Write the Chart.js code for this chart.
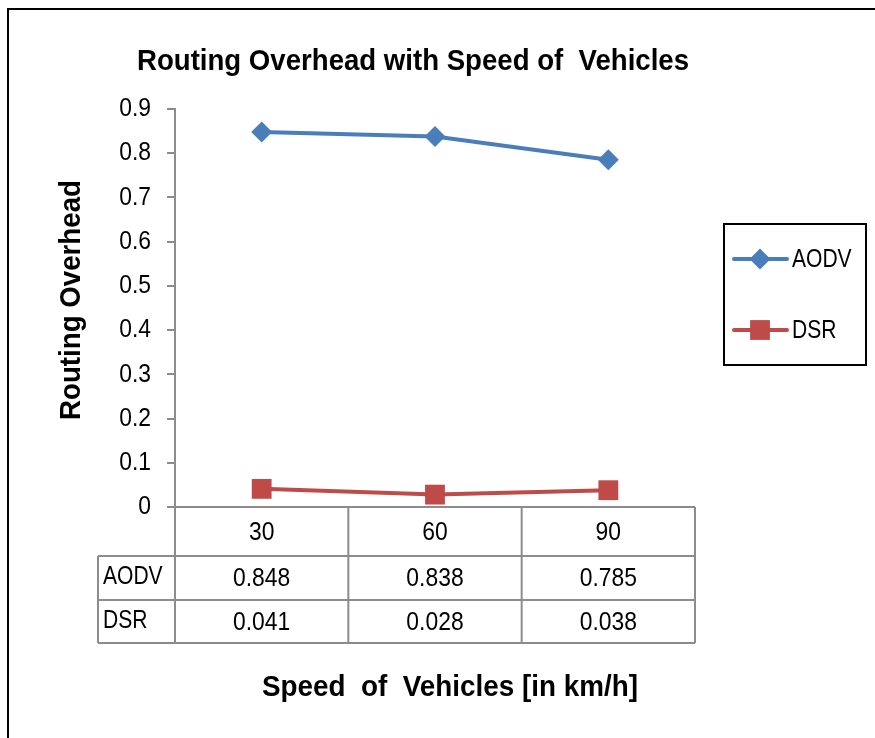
<!DOCTYPE html>
<html>
<head>
<meta charset="utf-8">
<script src="https://cdn.jsdelivr.net/npm/chart.js@4"></script>
<style>
html,body{margin:0;padding:0;background:#fff;}
#wrap{position:relative;width:875px;height:738px;}
</style>
</head>
<body>
<div id="wrap"><canvas id="c" width="875" height="738"></canvas></div>
<script>
const categories = ['30', '60', '90'];
const aodv = [0.848, 0.838, 0.785];
const dsr = [0.041, 0.028, 0.038];
const yTicks = [0, 0.1, 0.2, 0.3, 0.4, 0.5, 0.6, 0.7, 0.8, 0.9];
const titleText = 'Routing Overhead with Speed of  Vehicles';
const xTitle = 'Speed  of  Vehicles [in km/h]';
const yTitle = 'Routing Overhead';

const FONT = "'Liberation Sans', Arial, sans-serif";
const BLUE = '#4a7ebb';
const RED = '#be4b48';
const GRID = '#8c8c8c';
const SX = 0.88;      // horizontal compression for regular text
const REG = '26px ' + FONT;

function narrowText(ctx, text, x, y, font, align, sx, targetW) {
  ctx.save();
  ctx.font = font;
  ctx.textBaseline = 'middle';
  const w = ctx.measureText(text).width;
  const s = targetW ? targetW / w : sx;
  ctx.translate(x, y);
  ctx.scale(s, 1);
  ctx.textAlign = align;
  ctx.fillText(text, 0, 0);
  ctx.restore();
}

const decor = {
  id: 'decor',
  afterDraw(chart) {
    const ctx = chart.ctx;
    const xs = chart.scales.x;
    const ys = chart.scales.y;
    const area = chart.chartArea;
    ctx.save();
    // outer border
    ctx.strokeStyle = '#000';
    ctx.lineWidth = 2;
    ctx.beginPath();
    ctx.moveTo(8, 745); ctx.lineTo(8, 9); ctx.lineTo(880, 9);
    ctx.stroke();

    ctx.fillStyle = '#000';
    // title & axis titles
    narrowText(ctx, titleText, 413, 62, 'bold 30px ' + FONT, 'center', null, 552);
    narrowText(ctx, xTitle, 450, 688, 'bold 30px ' + FONT, 'center', null, 376);
    ctx.save();
    ctx.translate(72, 300);
    ctx.rotate(-Math.PI / 2);
    narrowText(ctx, yTitle, 0, 0, 'bold 30px ' + FONT, 'center', null, 240);
    ctx.restore();

    // y tick labels
    ys.ticks.forEach(t => {
      const y = ys.getPixelForValue(t.value);
      narrowText(ctx, String(Number(t.value.toFixed(1))), 151, y, REG, 'right', SX);
    });

    // data table
    const rowTops = [area.bottom, 556, 600, 643];
    const leftCol = 98;
    const n = categories.length;
    const colW = (area.right - area.left) / n;
    const bounds = [];
    for (let i = 0; i <= n; i++) bounds.push(area.left + i * colW);
    ctx.strokeStyle = GRID;
    ctx.lineWidth = 2;
    ctx.beginPath();
    ctx.moveTo(area.left, rowTops[0]); ctx.lineTo(area.right, rowTops[0]);
    for (let r = 1; r < rowTops.length; r++) {
      ctx.moveTo(leftCol, rowTops[r]); ctx.lineTo(area.right, rowTops[r]);
    }
    ctx.moveTo(leftCol, rowTops[1]); ctx.lineTo(leftCol, rowTops[3]);
    bounds.forEach(b => { ctx.moveTo(b, rowTops[0]); ctx.lineTo(b, rowTops[3]); });
    ctx.stroke();

    categories.forEach((c, i) => {
      const cx = xs.getPixelForValue(i);
      narrowText(ctx, c, cx, (rowTops[0] + rowTops[1]) / 2 + 1, REG, 'center', SX);
      narrowText(ctx, aodv[i].toFixed(3), cx, (rowTops[1] + rowTops[2]) / 2 + 1, REG, 'center', SX);
      narrowText(ctx, dsr[i].toFixed(3), cx, (rowTops[2] + rowTops[3]) / 2 + 1, REG, 'center', SX);
    });
    chart.data.datasets.forEach((ds, k) => {
      narrowText(ctx, ds.label, leftCol + 5, (rowTops[k + 1] + rowTops[k + 2]) / 2 - 1, REG, 'left', SX * 0.92);
    });

    // legend
    ctx.strokeStyle = '#000';
    ctx.lineWidth = 2;
    ctx.strokeRect(724, 224, 142, 141);
    const ly = [259, 330];
    chart.data.datasets.forEach((ds, k) => {
      const y = ly[k];
      ctx.strokeStyle = ds.borderColor;
      ctx.lineWidth = 4;
      ctx.lineCap = 'round';
      ctx.beginPath(); ctx.moveTo(734, y); ctx.lineTo(787, y); ctx.stroke();
      ctx.fillStyle = ds.backgroundColor;
      ctx.beginPath();
      if (ds.pointStyle === 'rectRot') {
        const r = ds.pointRadius;
        ctx.moveTo(760 - r, y); ctx.lineTo(760, y - r); ctx.lineTo(760 + r, y); ctx.lineTo(760, y + r);
      } else {
        const s = ds.pointRadius * Math.SQRT1_2;
        ctx.rect(760 - s, y - s, 2 * s, 2 * s);
      }
      ctx.closePath();
      ctx.fill();
      ctx.fillStyle = '#000';
      narrowText(ctx, ds.label, 792, y + 1, REG, 'left', SX * 0.92);
    });
    ctx.restore();
  }
};

new Chart(document.getElementById('c'), {
  type: 'line',
  data: {
    labels: categories,
    datasets: [
      {label: 'AODV', data: aodv, borderColor: BLUE, backgroundColor: BLUE,
       borderWidth: 4, pointStyle: 'rectRot', pointRadius: 10.5, pointBorderWidth: 0, tension: 0},
      {label: 'DSR', data: dsr, borderColor: RED, backgroundColor: RED,
       borderWidth: 4, pointStyle: 'rect', pointRadius: 14, pointBorderWidth: 0, tension: 0}
    ]
  },
  options: {
    responsive: false,
    animation: false,
    events: [],
    layout: {padding: {left: 0, right: 180, top: 109, bottom: 231}},
    plugins: {legend: {display: false}, title: {display: false}, tooltip: {enabled: false}},
    scales: {
      x: {
        type: 'category',
        offset: true,
        display: false
      },
      y: {
        min: 0, max: 0.9,
        afterFit(scale) { scale.width = 175; },
        afterBuildTicks(scale) { scale.ticks = yTicks.map(v => ({value: v})); },
        grid: {drawOnChartArea: false, drawTicks: true, tickLength: 8, color: GRID, lineWidth: 2},
        border: {display: true, color: GRID, width: 2},
        ticks: {display: false}
      }
    }
  },
  plugins: [decor]
});
</script>
</body>
</html>
